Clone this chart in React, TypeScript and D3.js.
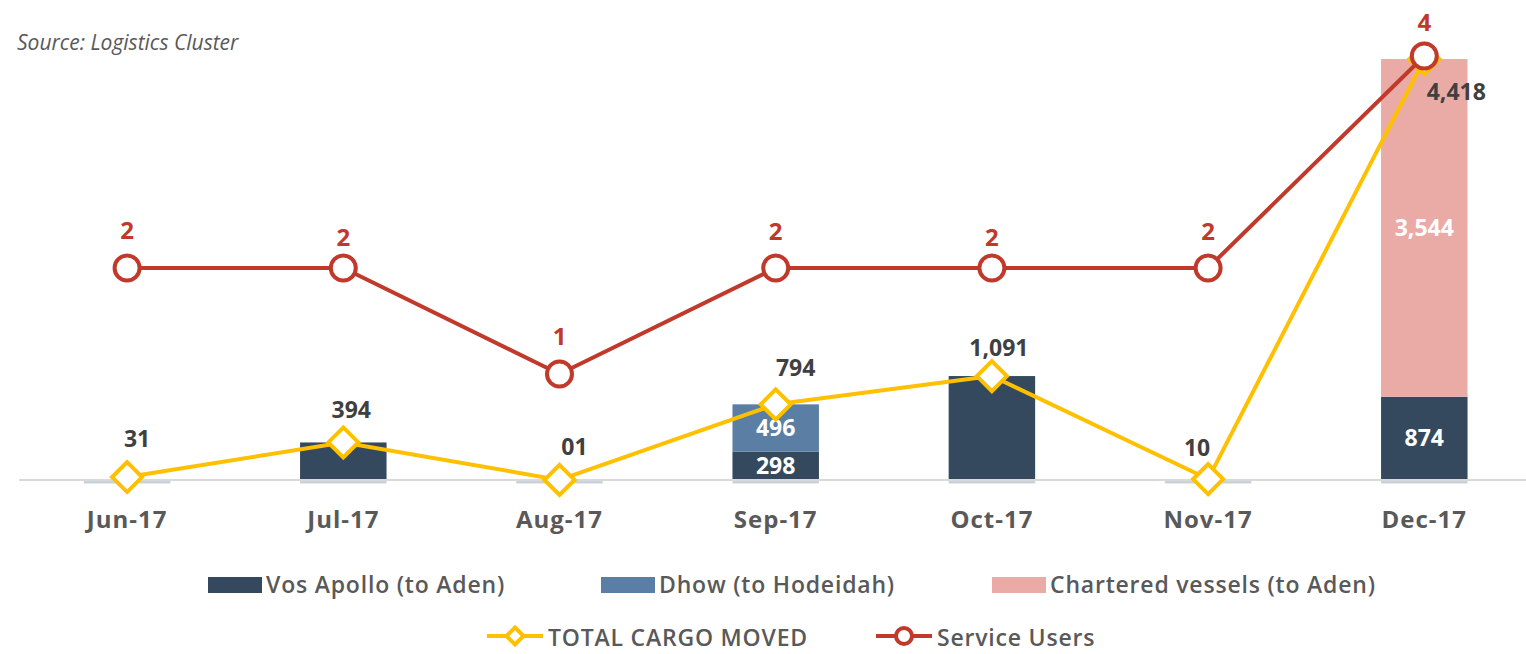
import React from "react";
import * as d3 from "d3";

const months = ["Jun-17", "Jul-17", "Aug-17", "Sep-17", "Oct-17", "Nov-17", "Dec-17"];
const vosApollo = [0, 394, 0, 298, 1091, 0, 874];
const dhow = [0, 0, 0, 496, 0, 0, 0];
const chartered = [0, 0, 0, 0, 0, 0, 3544];
const totalCargo = [31, 394, 1, 794, 1091, 10, 4418];
const totalCargoLabels = ["31", "394", "01", "794", "1,091", "10", "4,418"];
const serviceUsers = [2, 2, 1, 2, 2, 2, 4];

// label placement (layout only)
const cargoLabelDx = [10, 8, 15, 20, 7, -11, 32];
const cargoLabelDy = [-38, -32, -33, -36, -28, -31, 33];
const userLabelDy = [-38, -31, -38, -37, -31, -37, -34];

const W = 1526;
const H = 654;
const C_VOS = "#34495e";
const C_DHOW = "#5b7fa4";
const C_CHART = "#eaaba7";
const C_YEL = "#ffc000";
const C_RED = "#c0392b";
const FONT = "'Open Sans', sans-serif";

export default function App() {
  const x = d3
    .scaleBand<string>()
    .domain(months)
    .range([19, 19 + 7 * 216.2])
    .paddingInner(0.6)
    .paddingOuter(0.3);
  const y = d3.scaleLinear().domain([0, 5000]).range([480, 3.6]);
  const y2 = d3.scaleLinear().domain([0, 4.5]).range([480, 3]);
  const cx = (m: string) => (x(m) as number) + x.bandwidth() / 2;

  const series = [
    { key: "vos", values: vosApollo, color: C_VOS },
    { key: "dhow", values: dhow, color: C_DHOW },
    { key: "chart", values: chartered, color: C_CHART },
  ];
  const table = months.map((m, i) => ({ month: m, vos: vosApollo[i], dhow: dhow[i], chart: chartered[i] }));
  const stacked = d3.stack<any>().keys(series.map((s) => s.key))(table);

  const cargoLine = d3
    .line<number>()
    .x((_, i) => cx(months[i]))
    .y((d) => y(d));
  const userLine = d3
    .line<number>()
    .x((_, i) => cx(months[i]))
    .y((d) => y2(d));

  const diamond = (px: number, py: number, r: number) =>
    `M${px},${py - r}L${px + r},${py}L${px},${py + r}L${px - r},${py}Z`;

  const legendText = { fontFamily: FONT, fontWeight: 600, fontSize: 23, fill: "#595959", letterSpacing: 0.8 } as const;

  return (
    <svg width={W} height={H} style={{ position: "absolute", left: 0, top: 0, background: "#fff" }}>
      <text x={17} y={50} fontFamily={FONT} fontStyle="italic" fontSize={21} fill="#595959">
        Source: Logistics Cluster
      </text>

      {/* bars */}
      {stacked.map((layer, li) =>
        layer.map((d, i) => {
          const h = y(d[0]) - y(d[1]);
          if (h <= 0) return null;
          return (
            <rect
              key={`${li}-${i}`}
              x={x(months[i])}
              y={y(d[1])}
              width={x.bandwidth()}
              height={h}
              fill={series[li].color}
            />
          );
        })
      )}
      {/* base strips */}
      {months.map((m) => (
        <rect key={m} x={x(m)} y={y(0) + 1} width={x.bandwidth()} height={2.5} fill="#c9d2dc" />
      ))}
      {/* axis line */}
      <line x1={19} x2={W} y1={y(0)} y2={y(0)} stroke="#d9d9d9" strokeWidth={2} />

      {/* bar value labels */}
      {stacked.map((layer, li) =>
        layer.map((d, i) => {
          const v = d[1] - d[0];
          if (v <= 0 || (li === 0 && dhow[i] === 0 && chartered[i] === 0)) return null;
          return (
            <text
              key={`l${li}-${i}`}
              x={cx(months[i])}
              y={(y(d[0]) + y(d[1])) / 2 + 8}
              textAnchor="middle"
              fontFamily={FONT}
              fontWeight={700}
              fontSize={23}
              fill="#fff"
            >
              {d3.format(",")(v)}
            </text>
          );
        })
      )}

      {/* month labels */}
      {months.map((m) => (
        <text
          key={m}
          x={cx(m)}
          y={528}
          textAnchor="middle"
          fontFamily={FONT}
          fontWeight={700}
          fontSize={24}
          letterSpacing={1}
          fill="#595959"
        >
          {m}
        </text>
      ))}

      {/* total cargo line */}
      <path d={cargoLine(totalCargo) || ""} fill="none" stroke={C_YEL} strokeWidth={4} strokeLinejoin="round" />
      {totalCargo.map((v, i) => (
        <path key={i} d={diamond(cx(months[i]), y(v), 15)} fill="#fff" stroke={C_YEL} strokeWidth={4} strokeLinejoin="miter" />
      ))}
      {totalCargo.map((v, i) => (
        <text
          key={`c${i}`}
          x={cx(months[i]) + cargoLabelDx[i]}
          y={y(v) + cargoLabelDy[i] + 8}
          textAnchor="middle"
          fontFamily={FONT}
          fontWeight={700}
          fontSize={23}
          fill="#404040"
        >
          {totalCargoLabels[i]}
        </text>
      ))}

      {/* service users line */}
      <path d={userLine(serviceUsers) || ""} fill="none" stroke={C_RED} strokeWidth={4} strokeLinejoin="round" />
      {serviceUsers.map((v, i) => (
        <circle key={i} cx={cx(months[i])} cy={y2(v)} r={12.5} fill="#fff" stroke={C_RED} strokeWidth={4} />
      ))}
      {serviceUsers.map((v, i) => (
        <text
          key={`u${i}`}
          x={cx(months[i])}
          y={y2(v) + userLabelDy[i] + 9}
          textAnchor="middle"
          fontFamily={FONT}
          fontWeight={700}
          fontSize={24}
          fill={C_RED}
        >
          {v}
        </text>
      ))}

      {/* legend row 1 */}
      {[
        { label: "Vos Apollo (to Aden)", color: C_VOS, x: 208 },
        { label: "Dhow (to Hodeidah)", color: C_DHOW, x: 601 },
        { label: "Chartered vessels (to Aden)", color: C_CHART, x: 992 },
      ].map((l) => (
        <g key={l.label}>
          <rect x={l.x} y={577} width={54} height={16} fill={l.color} />
          <text x={l.x + 58} y={593} {...legendText}>
            {l.label}
          </text>
        </g>
      ))}
      {/* legend row 2 */}
      <line x1={487} x2={543} y1={636} y2={636} stroke={C_YEL} strokeWidth={4} />
      <path d={diamond(515, 636, 8.5)} fill="#fff" stroke={C_YEL} strokeWidth={4} />
      <text x={548} y={646} {...legendText}>
        TOTAL CARGO MOVED
      </text>
      <line x1={876} x2={932} y1={636} y2={636} stroke={C_RED} strokeWidth={4} />
      <circle cx={904} cy={636} r={8} fill="#fff" stroke={C_RED} strokeWidth={4} />
      <text x={937} y={646} {...legendText}>
        Service Users
      </text>
    </svg>
  );
}
